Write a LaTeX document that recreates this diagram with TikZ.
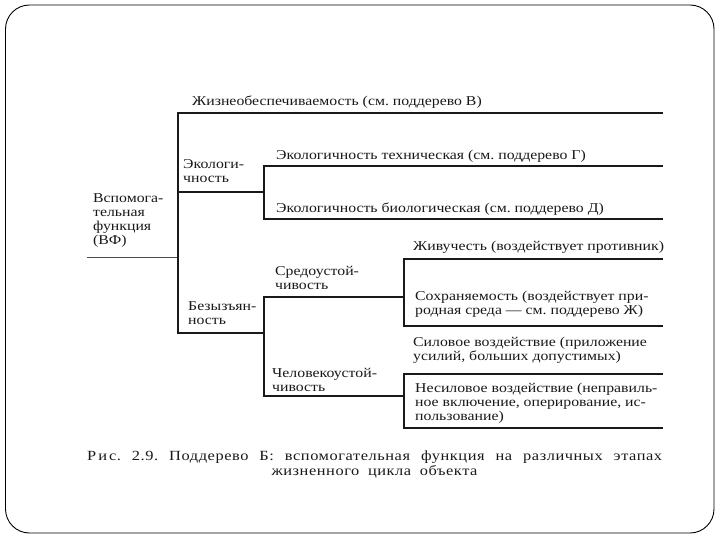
\documentclass[tikz,border=0pt]{standalone}
\usepackage{fontspec}
\setmainfont{Liberation Serif}[FakeStretch=1.17]
\newfontfamily\capfont{Liberation Serif}[FakeStretch=1.17, LetterSpace=4]
\frenchspacing
\newcommand\mlines[1]{\begin{tabular}[t]{@{}l@{}}#1\end{tabular}}
\begin{document}
\begin{tikzpicture}[x=1pt,y=-1pt,
  lbl/.style={anchor=base west, inner sep=0pt, font=\fontsize{13.5}{14}\selectfont\frenchspacing, text=black!90},
  caplbl/.style={anchor=base west, inner sep=0pt, font=\capfont\fontsize{14}{15}\selectfont\frenchspacing, text=black!90},
  br/.style={line width=1.3pt, draw=black!90},
  rootline/.style={line width=0.8pt, draw=black!70}]
\useasboundingbox (0,0) rectangle (720,540);
\draw[line width=0.9pt, rounded corners=24pt] (5.5,5) rectangle (714,533);
% junction coordinates
\coordinate (r0) at (87,257);   \coordinate (r1) at (178,257);
\coordinate (t0) at (178,113);  \coordinate (t1) at (663,113);
\coordinate (e0) at (178,192);  \coordinate (e1) at (264,192);
\coordinate (g0) at (264,166);  \coordinate (g1) at (663,166);
\coordinate (d0) at (264,219);  \coordinate (d1) at (663,219);
\coordinate (b0) at (178,333);  \coordinate (b1) at (264,333);
\coordinate (s0) at (264,297);  \coordinate (s1) at (404,297);
\coordinate (zh0) at (404,259); \coordinate (zh1) at (663,259);
\coordinate (so0) at (404,326); \coordinate (so1) at (663,326);
\coordinate (c0) at (264,396);  \coordinate (c1) at (404,396);
\coordinate (si0) at (404,374); \coordinate (si1) at (663,374);
\coordinate (n0) at (404,428);  \coordinate (n1) at (663,428);
% connectors
\draw[rootline] (r0) -- (r1);
\draw[br] (t1) -- (t0) -- (b0) -- (b1);
\draw[br] (e0) -- (e1);
\draw[br] (g1) -- (g0) -- (d0) -- (d1);
\draw[br] (s1) -- (s0) -- (c0) -- (c1);
\draw[br] (zh1) -- (zh0) -- (so0) -- (so1);
\draw[br] (si1) -- (si0) -- (n0) -- (n1);
% labels
\node[lbl] (vf) at (93,203) {\mlines{Вспомога-\\тельная\\функция\\(ВФ)}};
\node[lbl] (zh) at (192,106) {Жизнеобеспечиваемость (см. поддерево В)};
\node[lbl] (eco) at (183,169) {\mlines{Экологи-\\чность}};
\node[lbl] (tech) at (276,160) {Экологичность техническая (см. поддерево Г)};
\node[lbl] (bio) at (276,213) {Экологичность биологическая (см. поддерево Д)};
\node[lbl] (bez) at (188,310) {\mlines{Безызъян-\\ность}};
\node[lbl] (sred) at (275,275) {\mlines{Средоустой-\\чивость}};
\node[lbl] (chel) at (272,377) {\mlines{Человекоустой-\\чивость}};
\node[lbl] (zhiv) at (413,251) {Живучесть (воздействует противник)};
\node[lbl] (sohr) at (415,300) {\mlines{Сохраняемость (воздействует при-\\родная среда — см. поддерево Ж)}};
\node[lbl] (sil) at (413,346) {\mlines{Силовое воздействие (приложение\\усилий, больших допустимых)}};
\node[lbl] (nesil) at (415,392) {\mlines{Несиловое воздействие (неправиль-\\ное включение, оперирование, ис-\\пользование)}};
\node[caplbl] (cap1) at (87,460) {\makebox[575pt][s]{Р\hspace{2pt}и\hspace{2pt}с. 2.9. Поддерево Б: вспомогательная функция на различных этапах}};
\node[caplbl, anchor=base] (cap2) at (374.5,475) {\makebox[206pt][s]{жизненного цикла объекта}};
\end{tikzpicture}
\end{document}
